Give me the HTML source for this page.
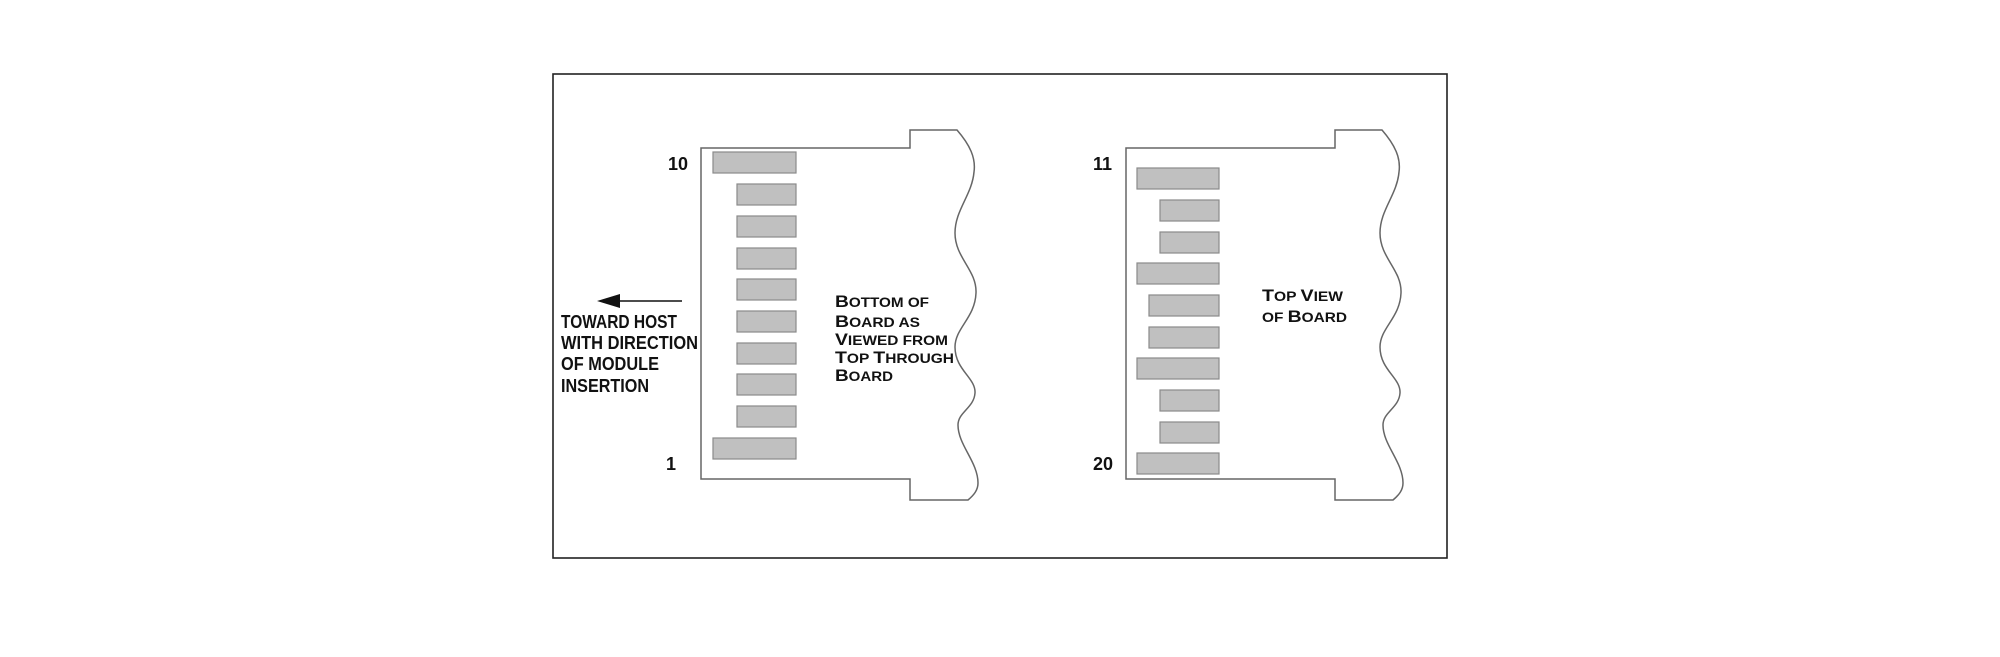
<!DOCTYPE html>
<html><head><meta charset="utf-8"><style>
html,body{margin:0;padding:0;background:#fff;}
svg{display:block;}
text{font-family:"Liberation Sans",sans-serif;font-weight:bold;fill:#111;}
</style></head><body>
<svg width="2000" height="657" viewBox="0 0 2000 657" xmlns="http://www.w3.org/2000/svg">
<rect x="553" y="74" width="894" height="484" fill="none" stroke="#222" stroke-width="1.6"/>
<defs>
<g id="board">
<path d="M701,148 L910,148 L910,130 L957,130 C970,145 976,158 974,172 C972,195 955,210 955,233 C955,258 977,270 976,293 C975,318 955,328 955,347 C955,370 976,378 975,393 C974,408 958,412 958,425 C958,445 978,462 978,483 C978,490 974,495 968,500 L910,500 L910,479 L701,479 Z" fill="none" stroke="#666" stroke-width="1.5"/>
</g>
</defs>
<use href="#board"/>
<use href="#board" x="425"/>
<g fill="#c0c0c0" stroke="#8a8a8a" stroke-width="1.2">
<rect x="713" y="152" width="83" height="21"/>
<rect x="737" y="184" width="59" height="21"/>
<rect x="737" y="216" width="59" height="21"/>
<rect x="737" y="248" width="59" height="21"/>
<rect x="737" y="279" width="59" height="21"/>
<rect x="737" y="311" width="59" height="21"/>
<rect x="737" y="343" width="59" height="21"/>
<rect x="737" y="374" width="59" height="21"/>
<rect x="737" y="406" width="59" height="21"/>
<rect x="713" y="438" width="83" height="21"/>

<rect x="1137" y="168" width="82" height="21"/>
<rect x="1160" y="200" width="59" height="21"/>
<rect x="1160" y="232" width="59" height="21"/>
<rect x="1137" y="263" width="82" height="21"/>
<rect x="1149" y="295" width="70" height="21"/>
<rect x="1149" y="327" width="70" height="21"/>
<rect x="1137" y="358" width="82" height="21"/>
<rect x="1160" y="390" width="59" height="21"/>
<rect x="1160" y="422" width="59" height="21"/>
<rect x="1137" y="453" width="82" height="21"/>
</g>
<line x1="615" y1="301" x2="682" y2="301" stroke="#111" stroke-width="1.6"/>
<polygon points="597,301 620,294 620,308" fill="#111"/>
<g>
<text x="668" y="170" font-size="18">10</text>
<text x="666" y="470" font-size="18">1</text>
<text x="1093" y="170" font-size="18">11</text>
<text x="1093" y="470" font-size="18">20</text>
</g>
<g font-size="18">
<text x="561" y="328" textLength="116" lengthAdjust="spacingAndGlyphs">TOWARD HOST</text>
<text x="561" y="349" textLength="137" lengthAdjust="spacingAndGlyphs">WITH DIRECTION</text>
<text x="561" y="370" textLength="98" lengthAdjust="spacingAndGlyphs">OF MODULE</text>
<text x="561" y="392" textLength="88" lengthAdjust="spacingAndGlyphs">INSERTION</text>
</g>
<g font-size="17">
<text x="835" y="307" textLength="94" lengthAdjust="spacingAndGlyphs">B<tspan font-size="13.5">OTTOM OF</tspan></text>
<text x="835" y="327" textLength="85" lengthAdjust="spacingAndGlyphs">B<tspan font-size="13.5">OARD AS</tspan></text>
<text x="835" y="345" textLength="113" lengthAdjust="spacingAndGlyphs">V<tspan font-size="13.5">IEWED FROM</tspan></text>
<text x="835" y="363" textLength="119" lengthAdjust="spacingAndGlyphs">T<tspan font-size="13.5">OP </tspan>T<tspan font-size="13.5">HROUGH</tspan></text>
<text x="835" y="381" textLength="58" lengthAdjust="spacingAndGlyphs">B<tspan font-size="13.5">OARD</tspan></text>
<text x="1262" y="301" textLength="81" lengthAdjust="spacingAndGlyphs">T<tspan font-size="13.5">OP </tspan>V<tspan font-size="13.5">IEW</tspan></text>
<text x="1262" y="322" textLength="85" lengthAdjust="spacingAndGlyphs"><tspan font-size="13.5">OF </tspan>B<tspan font-size="13.5">OARD</tspan></text>
</g>
</svg>
</body></html>
